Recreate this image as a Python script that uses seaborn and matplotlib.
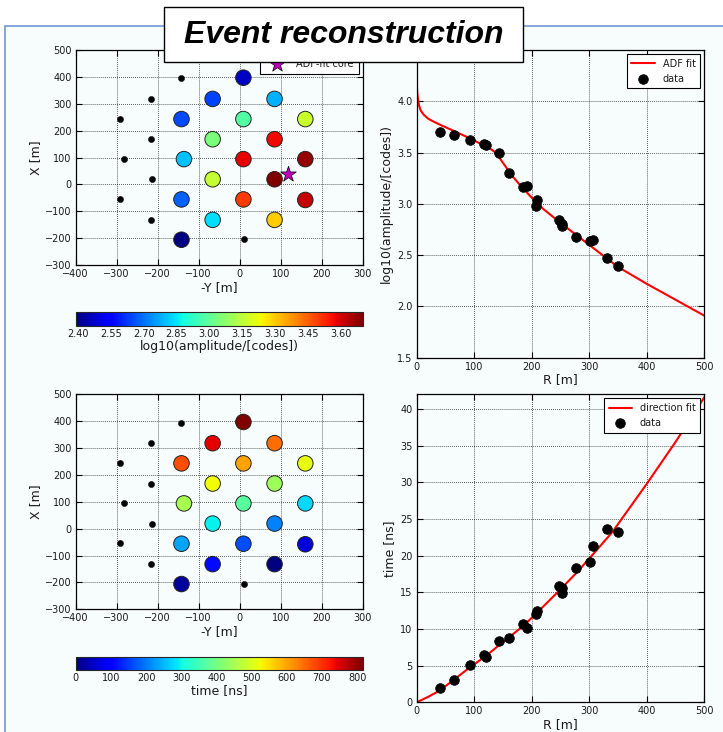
import matplotlib
matplotlib.use("Agg")
import matplotlib.pyplot as plt
from matplotlib.patches import Rectangle
from matplotlib.colors import Normalize
from matplotlib.cm import ScalarMappable
import seaborn as sns

# ---- stations with a signal: position (-Y, X) in metres ----
sig_my = [85, 160, 160, 9, 85, 9, 85, -66, 160, 9, -66, -66, -136, 85, -142, -66, -142, 9, -142]
sig_x = [19, 94, -58, 94, 168, -56, -132, 19, 243, 243, 168, -132, 94, 318, -56, 318, 243, 397, -206]
# log10 amplitude per station
sig_amp = [3.70, 3.67, 3.62, 3.58, 3.57, 3.50, 3.30, 3.16, 3.17, 2.98, 3.04,
           2.84, 2.80, 2.78, 2.68, 2.64, 2.65, 2.47, 2.39]
# arrival time per station [ns]
sig_time = [205, 275, 65, 375, 440, 165, 0, 295, 515, 600, 525,
            110, 450, 650, 235, 745, 675, 816, 20]
# distance to shower axis [m] and time residual to plane front [ns]
sig_r = [40, 65, 92, 117, 121, 143, 160, 185, 191, 207, 210,
         247, 252, 253, 277, 301, 306, 330, 350]
sig_dt = [1.9, 3.05, 5.1, 6.45, 6.2, 8.3, 8.75, 10.65, 10.1, 12.1, 12.4,
          15.85, 14.9, 15.65, 18.25, 19.1, 21.35, 23.65, 23.2]

# ---- stations without a signal ----
off_my = [-142, -217, -293, -217, -283, -214, -292, -216, 10]
off_x = [395, 318, 244, 168, 95, 19, -55, -132, -205]

# reconstructed core
core_my = [119]
core_x = [38]

# ---- fitted lateral distribution function ----
adf_r = [0, 1, 2, 4, 7, 12, 20, 30, 45, 65, 90, 115, 130, 138, 150, 165,
         180, 200, 220, 250, 280, 300, 330, 350, 400, 450, 500]
adf_amp = [4.18, 4.08, 4.03, 3.96, 3.91, 3.87, 3.83, 3.80, 3.76, 3.71, 3.645,
           3.575, 3.53, 3.495, 3.40, 3.28, 3.18, 3.06, 2.95, 2.815, 2.685,
           2.60, 2.47, 2.385, 2.22, 2.065, 1.91]

# ---- fitted shower front ----
front_r = [0, 20, 40, 65, 93, 120, 145, 185, 209, 250, 277, 300, 340, 400, 450, 500]
front_t = [0, 0.75, 1.6, 3.1, 4.8, 6.3, 7.9, 10.4, 12.2, 15.4, 17.6, 19.6,
           23.2, 29.8, 35.5, 41.6]

amp_ticks = [2.40, 2.55, 2.70, 2.85, 3.00, 3.15, 3.30, 3.45, 3.60]
time_ticks = [0, 100, 200, 300, 400, 500, 600, 700, 800]
ldf_yticks = [1.5, 2.0, 2.5, 3.0, 3.5, 4.0]

sns.set_style("ticks")
plt.rcParams["font.family"] = ["DejaVu Sans"]
plt.rcParams["text.color"] = "#1a1a1a"
plt.rcParams["axes.labelcolor"] = "#1a1a1a"
plt.rcParams["xtick.color"] = "black"
plt.rcParams["ytick.color"] = "black"
plt.rcParams["xtick.labelcolor"] = "#1a1a1a"
plt.rcParams["ytick.labelcolor"] = "#1a1a1a"

JET = matplotlib.colormaps["jet"]

W, H = 723, 732
fig = plt.figure(figsize=(W / 100, H / 100), dpi=100)
fig.patch.set_facecolor("white")

BG = "#f7fdfd"
fig.add_artist(Rectangle((5 / W, -0.1), 2.0, 1 - 26 / H + 0.1, transform=fig.transFigure,
                         facecolor=BG, edgecolor="#7396d0", linewidth=1.2, zorder=-5))


def rect(left, top, right, bottom):
    return [left / W, 1 - bottom / H, (right - left) / W, (bottom - top) / H]


def style_axes(ax):
    ax.set_facecolor("none")
    ax.grid(True, linestyle=":", color="black", linewidth=0.55)
    ax.tick_params(direction="in", top=True, right=True, length=4, width=0.8,
                   labelsize=7, pad=3)
    for sp in ax.spines.values():
        sp.set_visible(True)
        sp.set_color("black")
        sp.set_linewidth(0.9)


def draw_map(ax, values, norm):
    sns.scatterplot(x=off_my, y=off_x, color="black", s=20, edgecolor="black",
                    linewidth=0.3, ax=ax, zorder=3, legend=False)
    sns.scatterplot(x=sig_my, y=sig_x, hue=values, palette=JET, hue_norm=norm,
                    s=125, edgecolor="#222222", linewidth=0.7, ax=ax, zorder=4,
                    legend=False)
    ax.set_xlim(-400, 300)
    ax.set_ylim(-300, 500)
    ax.set_xticks(range(-400, 301, 100))
    ax.set_yticks(range(-300, 501, 100))
    ax.set_xlabel("-Y [m]", fontsize=9, labelpad=1)
    ax.set_ylabel("X [m]", fontsize=9, labelpad=2)
    style_axes(ax)


def draw_cbar(cax, norm, ticks, fmt, label):
    cb = fig.colorbar(ScalarMappable(norm=norm, cmap=JET), cax=cax,
                      orientation="horizontal")
    cb.set_ticks(ticks)
    cb.set_ticklabels([fmt.format(t) for t in ticks])
    cb.ax.tick_params(direction="in", labelsize=7, length=3, width=0.6, pad=2)
    cb.outline.set_linewidth(0.8)
    cb.set_label(label, fontsize=9, labelpad=1)


def style_legend(ax, loc):
    leg = ax.legend(loc=loc, fontsize=7, frameon=True, fancybox=False,
                    edgecolor="black", framealpha=1, facecolor="white",
                    handlelength=2.4, borderpad=0.5, labelspacing=0.5,
                    borderaxespad=0.4)
    leg.get_frame().set_linewidth(0.8)


amp_norm = Normalize(2.39, 3.70)
time_norm = Normalize(0, 816)

# amplitude map
ax1 = fig.add_axes(rect(75.7, 50, 362.7, 265))
draw_map(ax1, sig_amp, amp_norm)
sns.scatterplot(x=core_my, y=core_x, marker="*", color="#bf00bf", s=140,
                edgecolor="black", linewidth=0.5, ax=ax1, zorder=6,
                label="ADF-fit core")
style_legend(ax1, "upper right")
cax1 = fig.add_axes(rect(75.7, 311.7, 362.7, 326))
draw_cbar(cax1, amp_norm, amp_ticks, "{:.2f}", "log10(amplitude/[codes])")

# lateral distribution
ax2 = fig.add_axes(rect(416.7, 50, 704.3, 357.7))
sns.lineplot(x=adf_r, y=adf_amp, color="red", linewidth=1.5, estimator=None,
             sort=False, ax=ax2, label="ADF fit")
sns.scatterplot(x=sig_r, y=sig_amp, color="black", s=48, edgecolor="black",
                ax=ax2, zorder=5, label="data")
ax2.set_xlim(0, 500)
ax2.set_ylim(1.5, 4.5)
ax2.set_xticks(range(0, 501, 100))
ax2.set_yticks(ldf_yticks)
ax2.set_yticklabels(["{:.1f}".format(v) for v in ldf_yticks])
ax2.set_xlabel("R [m]", fontsize=9, labelpad=1)
ax2.set_ylabel("log10(amplitude/[codes])", fontsize=9, labelpad=3)
style_axes(ax2)
style_legend(ax2, "upper right")

# arrival time map
ax3 = fig.add_axes(rect(75.7, 394.3, 362.7, 609.3))
draw_map(ax3, sig_time, time_norm)
cax3 = fig.add_axes(rect(75.7, 656.7, 362.7, 670))
draw_cbar(cax3, time_norm, time_ticks, "{:d}", "time [ns]")

# shower front
ax4 = fig.add_axes(rect(416.7, 394.3, 704.3, 702.3))
sns.lineplot(x=front_r, y=front_t, color="red", linewidth=1.5, estimator=None,
             sort=False, ax=ax4, label="direction fit")
sns.scatterplot(x=sig_r, y=sig_dt, color="black", s=48, edgecolor="black",
                ax=ax4, zorder=5, label="data")
ax4.set_xlim(0, 500)
ax4.set_ylim(0, 42)
ax4.set_xticks(range(0, 501, 100))
ax4.set_yticks(range(0, 41, 5))
ax4.set_xlabel("R [m]", fontsize=9, labelpad=1)
ax4.set_ylabel("time [ns]", fontsize=9, labelpad=3)
style_axes(ax4)
style_legend(ax4, "upper right")

# slide title
fig.add_artist(Rectangle((164 / W, 1 - 62 / H), (523 - 164) / W, 55 / H,
                         transform=fig.transFigure, facecolor="white",
                         edgecolor="black", linewidth=1.0, zorder=10))
fig.text(343.5 / W, 1 - 35 / H, "Event reconstruction", ha="center", va="center",
         fontsize=23, fontweight="bold", fontstyle="italic", color="black",
         family="Liberation Sans", zorder=11)

fig.savefig("out.png", dpi=100, facecolor=fig.get_facecolor())
